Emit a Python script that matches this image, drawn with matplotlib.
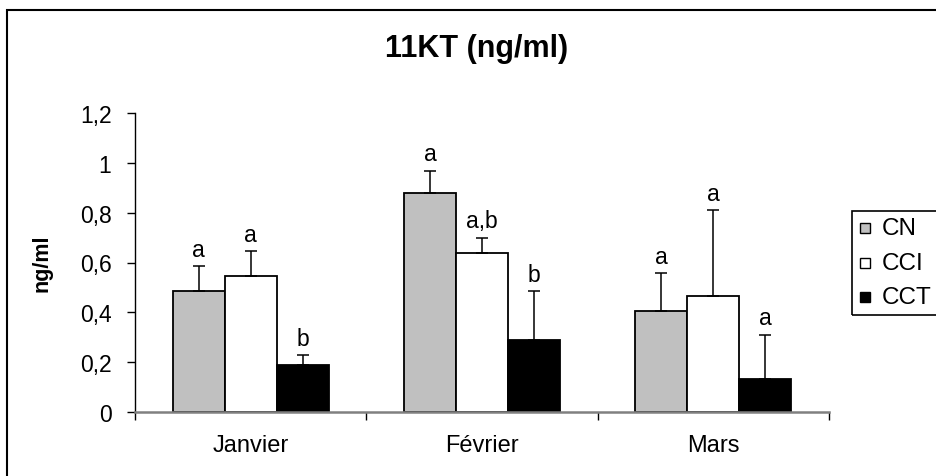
import numpy as np
import matplotlib.pyplot as plt
from matplotlib.patches import Rectangle

plt.rcParams["font.family"] = ["Liberation Sans", "DejaVu Sans"]

months = ["Janvier", "Février", "Mars"]
groups = ["CN", "CCI", "CCT"]
colors = ["#c0c0c0", "white", "black"]

cn_mean = [0.485, 0.88, 0.405]
cci_mean = [0.545, 0.64, 0.465]
cct_mean = [0.188, 0.288, 0.134]

cn_err = [0.10, 0.088, 0.153]
cci_err = [0.10, 0.06, 0.345]
cct_err = [0.04, 0.197, 0.176]

cn_letters = ["a", "a", "a"]
cci_letters = ["a", "a,b", "a"]
cct_letters = ["b", "b", "a"]

means = [cn_mean, cci_mean, cct_mean]
errs = [cn_err, cci_err, cct_err]
letters = [cn_letters, cci_letters, cct_letters]

W, H = 936, 477
fig = plt.figure(figsize=(W / 100, H / 100), dpi=100)
ax = fig.add_axes([135 / W, (H - 413) / H, (829 - 135) / W, (413 - 114) / H])

x = np.arange(len(months))
bw = 0.225
for i, g in enumerate(groups):
    pos = x + (i - 1) * bw
    ax.bar(pos, means[i], bw, color=colors[i], edgecolor="black", linewidth=1.3, zorder=2)
    ax.errorbar(pos, means[i], yerr=[np.zeros(3), errs[i]], fmt="none", ecolor="black",
                elinewidth=1.1, capsize=4, capthick=1.1, zorder=3)
    for p, m, e, t in zip(pos, means[i], errs[i], letters[i]):
        ax.annotate(t, (p, m + e), xytext=(0, 7.5), textcoords="offset points",
                    ha="center", va="baseline", fontsize=16.5)

ax.set_xlim(-0.5, 2.5)
ax.set_ylim(0, 1.2)
ax.set_yticks(np.arange(0, 1.21, 0.2))
ax.set_yticklabels(["0", "0,2", "0,4", "0,6", "0,8", "1", "1,2"], fontsize=16.5)
ax.set_xticks(x)
ax.set_xticklabels(months, fontsize=17)
ax.set_xticks([-0.5, 0.5, 1.5, 2.5], minor=True)
ax.tick_params(axis="x", which="major", length=0, pad=16)
ax.tick_params(axis="x", which="minor", length=6, width=1, direction="out")
ax.tick_params(axis="y", length=6, width=1, direction="out", pad=11)
ax.spines["top"].set_visible(False)
ax.spines["right"].set_visible(False)
ax.spines["bottom"].set_color("#808080")
ax.spines["bottom"].set_linewidth(1.8)
ax.spines["left"].set_linewidth(1)
ax.set_ylabel("ng/ml", fontsize=15.5, fontweight="bold")
ax.yaxis.set_label_coords((52 - 135) / (829 - 135), 0.5)

fig.text(477 / W, 1 - 49 / H, "11KT (ng/ml)", ha="center", va="center",
         fontsize=22, fontweight="bold")

# outer chart frame, cut at right and bottom
fig.patches.append(Rectangle((7 / W, -0.1), 1.2, 1 - 11 / H + 0.1, transform=fig.transFigure,
                             fill=False, edgecolor="black", linewidth=1.5))

# legend drawn by hand: box, squares, labels
fig.patches.append(Rectangle((852 / W, 1 - 316 / H), 0.2, (316 - 212) / H,
                             transform=fig.transFigure, fill=False, edgecolor="black", linewidth=1.2))
legend_y = [229, 264, 298]
for g, c, yy in zip(groups, colors, legend_y):
    fig.patches.append(Rectangle((860 / W, 1 - (yy + 5) / H), 10 / W, 10 / H,
                                 transform=fig.transFigure, facecolor=c, edgecolor="black",
                                 linewidth=1))
    fig.text(882 / W, 1 - yy / H, g, ha="left", va="center", fontsize=17.5)

fig.savefig("out.png", dpi=100)
